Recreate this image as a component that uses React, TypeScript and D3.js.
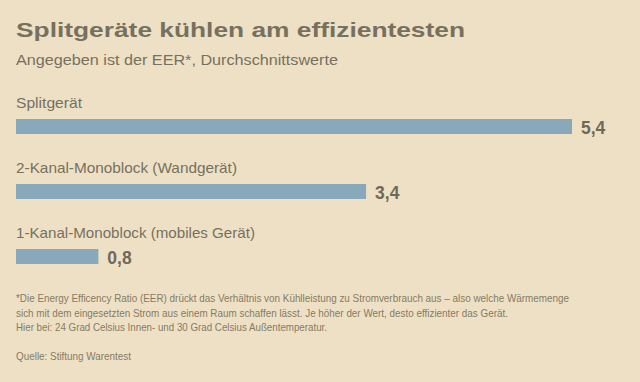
import React from "react";
import * as d3 from "d3";

const categories = [
  "Splitgerät",
  "2-Kanal-Monoblock (Wandgerät)",
  "1-Kanal-Monoblock (mobiles Gerät)",
];
const values = [5.4, 3.4, 0.8];
const valueLabels = ["5,4", "3,4", "0,8"];

const title = "Splitgeräte kühlen am effizientesten";
const subtitle = "Angegeben ist der EER*, Durchschnittswerte";
const footnotes = [
  "*Die Energy Efficency Ratio (EER) drückt das Verhältnis von Kühlleistung zu Stromverbrauch aus – also welche Wärmemenge",
  "sich mit dem eingesetzten Strom aus einem Raum schaffen lässt. Je höher der Wert, desto effizienter das Gerät.",
  "Hier bei: 24 Grad Celsius Innen- und 30 Grad Celsius Außentemperatur.",
];
const source = "Quelle: Stiftung Warentest";

const W = 640;
const H = 382;

export default function App() {
  const x = d3.scaleLinear().domain([0, 5.4]).range([16, 572]);
  const rowStart = 119;
  const rowStep = 65;
  const barH = 15;
  const footWidths = [553, 492, 311];
  const labelWidths = [66, 221, 239];
  const bg = "#eee0c5";
  const textCol = "#76715f";
  const footCol = "#857b64";
  const sans = "'Liberation Sans', Arial, Helvetica, sans-serif";
  const narrow = "'Liberation Sans Narrow', 'Liberation Sans', Arial, sans-serif";

  return (
    <svg
      width={W}
      height={H}
      style={{ position: "absolute", left: 0, top: 0, display: "block" }}
    >
      <rect x={0} y={0} width={W} height={H} fill={bg} />
      <text
        x={16}
        y={37}
        fontFamily={sans}
        fontWeight="bold"
        fontSize={21}
        fill={textCol}
        textLength={449}
        lengthAdjust="spacingAndGlyphs"
      >
        {title}
      </text>
      <text
        x={16}
        y={65}
        fontFamily={sans}
        fontSize={14}
        fill={textCol}
        textLength={322}
        lengthAdjust="spacingAndGlyphs"
      >
        {subtitle}
      </text>
      {categories.map((c, i) => {
        const y = rowStart + i * rowStep;
        return (
          <g key={c}>
            <text
              x={16}
              y={y - 11}
              fontFamily={sans}
              fontSize={14.5}
              fill={textCol}
              textLength={labelWidths[i]}
              lengthAdjust="spacingAndGlyphs"
            >
              {c}
            </text>
            <rect
              x={x(0)}
              y={y}
              width={x(values[i]) - x(0)}
              height={barH}
              fill="#88a9b9"
            />
            <text
              x={x(values[i]) + 9}
              y={y + barH}
              fontFamily={sans}
              fontSize={17.5}
              fontWeight="bold"
              fill="#6e695a"
            >
              {valueLabels[i]}
            </text>
          </g>
        );
      })}
      {footnotes.map((f, i) => (
        <text
          key={i}
          x={16}
          y={302 + i * 14.5}
          fontFamily={narrow}
          fontSize={10.5}
          fill={footCol}
          textLength={footWidths[i]}
          lengthAdjust="spacingAndGlyphs"
        >
          {f}
        </text>
      ))}
      <text
        x={16}
        y={360}
        fontFamily={narrow}
        fontSize={10.5}
        fill={footCol}
        textLength={115}
        lengthAdjust="spacingAndGlyphs"
      >
        {source}
      </text>
    </svg>
  );
}
